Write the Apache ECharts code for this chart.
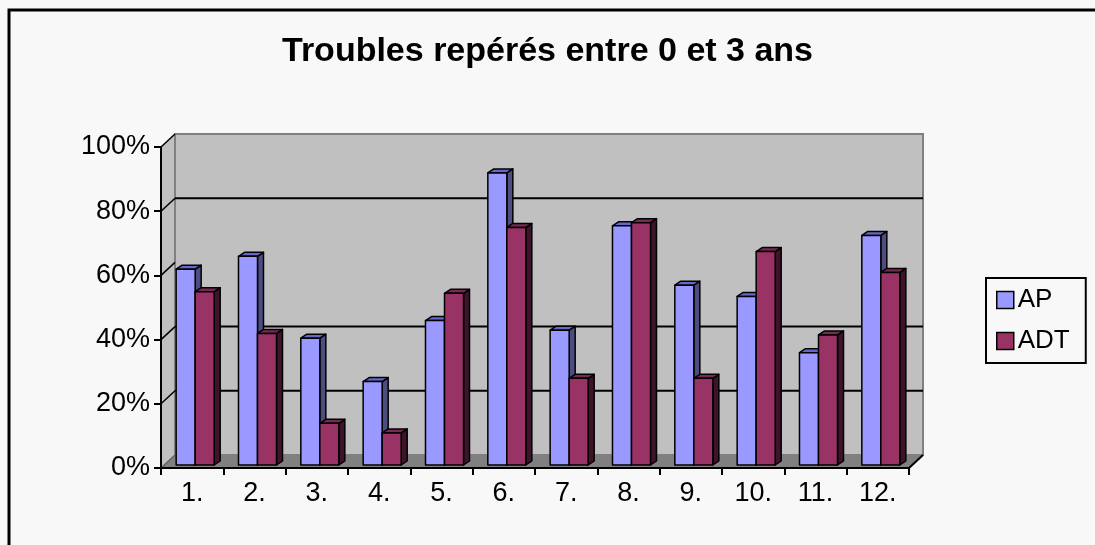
<!DOCTYPE html>
<html>
<head>
<meta charset="utf-8">
<script src="https://cdn.jsdelivr.net/npm/echarts@6/dist/echarts.min.js"></script>
<style>
html,body{margin:0;padding:0;background:#f8f8f8;}
#chart{width:1095px;height:545px;}
</style>
</head>
<body>
<div id="chart"></div>
<script>
var categories = ['1.', '2.', '3.', '4.', '5.', '6.', '7.', '8.', '9.', '10.', '11.', '12.'];
var apValues  = [61, 65, 39.5, 26, 45, 91, 42, 74.5, 56, 52.5, 35, 71.5];
var adtValues = [54, 41, 13, 10, 53.5, 74, 27, 75.5, 27, 66.5, 40.5, 60];
var yTickValues = [0, 20, 40, 60, 80, 100];
var backGridValues = [20, 40, 80];

var WALL_DX = 14, WALL_DY = -13;   // depth of the 3D box
var BAR_SX = 3, BAR_SY = -3;       // depth position of the bars
var BAR_DX = 6, BAR_DY = -4;       // depth of each bar
var FONT = 'Liberation Sans, Arial, sans-serif';

function frameRender(params, api) {
  var bw = api.size([1, 0])[0];
  var x0 = api.coord([0, 0])[0] - bw / 2;
  var x1 = api.coord([categories.length - 1, 0])[0] + bw / 2;
  var y0 = api.coord([0, 0])[1];
  var yTop = api.coord([0, 100])[1];
  var children = [];
  children.push({type: 'polygon', shape: {points: [[x0, y0], [x0, yTop], [x0 + WALL_DX, yTop + WALL_DY], [x0 + WALL_DX, y0 + WALL_DY]]},
    style: {fill: '#c0c0c0', stroke: null}});
  children.push({type: 'rect', shape: {x: x0 + WALL_DX, y: yTop + WALL_DY, width: x1 - x0, height: y0 - yTop},
    style: {fill: '#c0c0c0', stroke: '#808080', lineWidth: 2}});
  children.push({type: 'polygon', shape: {points: [[x0, y0], [x0 + WALL_DX, y0 + WALL_DY], [x1 + WALL_DX, y0 + WALL_DY], [x1, y0]]},
    style: {fill: '#808080', stroke: null}});
  backGridValues.forEach(function (v) {
    var y = api.coord([0, v])[1];
    children.push({type: 'line', shape: {x1: x0 + WALL_DX, y1: y + WALL_DY, x2: x1 + WALL_DX, y2: y + WALL_DY},
      style: {stroke: '#000', lineWidth: 2}});
  });
  yTickValues.forEach(function (v) {
    var y = api.coord([0, v])[1];
    children.push({type: 'line', shape: {x1: x0, y1: y, x2: x0 + WALL_DX, y2: y + WALL_DY},
      style: {stroke: v === 0 ? '#606060' : '#000', lineWidth: 1.5}});
  });
  children.push({type: 'line', shape: {x1: x1, y1: y0, x2: x1 + WALL_DX, y2: y0 + WALL_DY},
    style: {stroke: '#000', lineWidth: 2}});
  return {type: 'group', children: children};
}

function makeBarRender(slot, frontColor, topColor, sideColor) {
  return function (params, api) {
    var idx = api.value(0), val = api.value(1);
    var c = api.coord([idx, val]);
    var b = api.coord([idx, 0]);
    var bw = api.size([1, 0])[0];
    var w = bw * 0.305;
    var xl = c[0] + BAR_SX + (slot === 0 ? -w : 0);
    var yt = c[1] + BAR_SY;
    var yb = b[1] + BAR_SY;
    var st = {stroke: '#000', lineWidth: 1.5, lineJoin: 'round'};
    return {type: 'group', children: [
      {type: 'polygon', shape: {points: [[xl + w, yt], [xl + w + BAR_DX, yt + BAR_DY], [xl + w + BAR_DX, yb + BAR_DY], [xl + w, yb]]},
        style: Object.assign({fill: sideColor}, st)},
      {type: 'polygon', shape: {points: [[xl, yt], [xl + BAR_DX, yt + BAR_DY], [xl + w + BAR_DX, yt + BAR_DY], [xl + w, yt]]},
        style: Object.assign({fill: topColor}, st)},
      {type: 'rect', shape: {x: xl, y: yt, width: w, height: yb - yt},
        style: Object.assign({fill: frontColor}, st)}
    ]};
  };
}

var chart = echarts.init(document.getElementById('chart'), null, {renderer: 'canvas'});
chart.setOption({
  backgroundColor: '#f8f8f8',
  animation: false,
  title: {
    text: 'Troubles repérés entre 0 et 3 ans',
    left: 'center',
    top: 30,
    padding: [5, 5, 5, 19],
    textStyle: {fontFamily: FONT, fontSize: 34, fontWeight: 'bold', color: '#000'}
  },
  legend: {
    orient: 'vertical',
    left: 986, top: 278,
    padding: [9, 16, 9, 10],
    itemGap: 15,
    itemWidth: 17, itemHeight: 17,
    borderColor: '#000', borderWidth: 2,
    backgroundColor: '#f8f8f8',
    icon: 'rect',
    textStyle: {fontFamily: FONT, fontSize: 26, color: '#000', padding: [0, 0, 0, -1]},
    data: [
      {name: 'AP', itemStyle: {color: '#9999ff', borderColor: '#000', borderWidth: 1.5}},
      {name: 'ADT', itemStyle: {color: '#993366', borderColor: '#000', borderWidth: 1.5}}
    ]
  },
  graphic: [{
    type: 'rect', shape: {x: 9, y: 10, width: 1200, height: 600},
    style: {fill: null, stroke: '#000', lineWidth: 3}, silent: true, z: 0
  }],
  grid: {left: 161, right: 186, top: 147, bottom: 77},
  xAxis: {
    type: 'category', data: categories,
    z: 10,
    axisLine: {show: true, lineStyle: {color: '#000', width: 2}},
    axisTick: {show: true, length: 7, lineStyle: {color: '#000', width: 2}},
    axisLabel: {fontFamily: FONT, fontSize: 27, color: '#000', margin: 12},
    splitLine: {show: false}
  },
  yAxis: {
    type: 'value', min: 0, max: 100, interval: 20,
    z: 10,
    axisLine: {show: true, lineStyle: {color: '#000', width: 2}},
    axisTick: {show: true, length: 7, lineStyle: {color: '#000', width: 2}},
    axisLabel: {fontFamily: FONT, fontSize: 27, color: '#000', margin: 11, padding: [0, 0, 8, 0], formatter: '{value}%'},
    splitLine: {show: false}
  },
  series: [
    {type: 'custom', name: 'frame', silent: true, z: 1, renderItem: frameRender, data: [[0, 0]], tooltip: {show: false}},
    {type: 'custom', name: 'AP', z: 2, itemStyle: {color: '#9999ff'},
      renderItem: makeBarRender(0, '#9999ff', '#6666cc', '#4d4d80'),
      data: apValues.map(function (v, i) { return [i, v]; })},
    {type: 'custom', name: 'ADT', z: 2, itemStyle: {color: '#993366'},
      renderItem: makeBarRender(1, '#993366', '#7a2952', '#3d1429'),
      data: adtValues.map(function (v, i) { return [i, v]; })}
  ]
});
</script>
</body>
</html>
